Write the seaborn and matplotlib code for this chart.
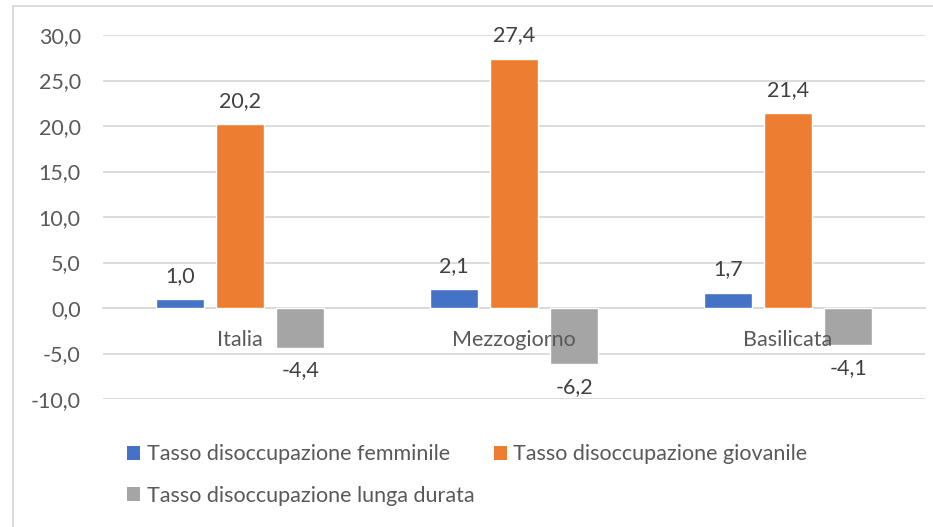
import pandas as pd
import numpy as np
import matplotlib
matplotlib.use("Agg")
import matplotlib.pyplot as plt
from matplotlib.lines import Line2D
from matplotlib.patches import Patch
import seaborn as sns

regioni = ["Italia", "Mezzogiorno", "Basilicata"]
serie = ["Tasso disoccupazione femminile",
         "Tasso disoccupazione giovanile",
         "Tasso disoccupazione lunga durata"]
femminile = [1.0, 2.1, 1.7]
giovanile = [20.2, 27.4, 21.4]
lunga_durata = [-4.4, -6.2, -4.1]
y_ticks = [-10, -5, 0, 5, 10, 15, 20, 25, 30]

colori = ["#4472C4", "#ED7D31", "#A5A5A5"]
testo = "#595959"
fs = 15.5

df = pd.DataFrame({
    "regione": regioni * 3,
    "serie": [serie[0]] * 3 + [serie[1]] * 3 + [serie[2]] * 3,
    "valore": femminile + giovanile + lunga_durata,
})

sns.set_style("white")
plt.rcParams['font.family'] = ['Lato', 'DejaVu Sans']

W, H = 933, 527
fig = plt.figure(figsize=(W / 100, H / 100), dpi=100)
ax = fig.add_axes([103 / W, 1 - 399 / H, (925 - 103) / W, (399 - 35) / H])

sns.barplot(data=df, x="regione", y="valore", hue="serie", order=regioni,
            hue_order=serie, palette=colori, width=0.66, gap=0.2,
            saturation=1, legend=False, ax=ax, zorder=3)

ax.set_ylim(-10, 30)
ax.set_xlim(-0.5, 2.5)
ax.set_yticks(y_ticks)
ax.set_yticklabels([f"{v:.1f}".replace(".", ",") for v in y_ticks],
                   color=testo, fontsize=fs)
ax.yaxis.grid(True, color="#D9D9D9", linewidth=1.3, zorder=0)
ax.set_axisbelow(True)
for s in ["top", "right", "left"]:
    ax.spines[s].set_visible(False)
ax.spines["bottom"].set_position(("data", 0))
ax.spines["bottom"].set_color("#D9D9D9")
ax.spines["bottom"].set_linewidth(1.3)
ax.spines["bottom"].set_zorder(2)
ax.tick_params(axis="y", length=0, pad=16)
ax.tick_params(axis="x", length=0, pad=16, labelsize=fs, labelcolor=testo)
ax.xaxis.set_zorder(5)
ax.set_xlabel("")
ax.set_ylabel("")

# etichette dei valori
for cont in ax.containers:
    for rect in cont:
        v = rect.get_height()
        x = rect.get_x() + rect.get_width() / 2
        if v >= 0:
            ax.annotate(f"{v:.1f}".replace(".", ","), (x, v), xytext=(0, 9.5),
                        textcoords="offset points", ha="center", va="bottom",
                        fontsize=fs, color="#404040")
        else:
            ax.annotate(f"{v:.1f}".replace(".", ","), (x, v), xytext=(0, -9),
                        textcoords="offset points", ha="center", va="top",
                        fontsize=fs, color="#404040")

# ordine per colonne: riga 1 femminile/giovanile, riga 2 lunga durata
ordine = [0, 2, 1]
handles = [Patch(facecolor=colori[i], edgecolor="none") for i in ordine]
fig.legend(handles, [serie[i] for i in ordine], loc="upper left",
           bbox_to_anchor=(108 / W, 1 - 425 / H),
           ncol=2, frameon=False, fontsize=fs, labelcolor=testo,
           handlelength=0.6, handleheight=0.6, handletextpad=0.3,
           columnspacing=0.9, labelspacing=1.0)

# cornice dell'area grafico
fig.add_artist(Line2D([13 / W, 13 / W], [0, 1 - 6 / H], transform=fig.transFigure,
                      color="#D9D9D9", linewidth=1.3))
fig.add_artist(Line2D([13 / W, 1], [1 - 6 / H, 1 - 6 / H], transform=fig.transFigure,
                      color="#D9D9D9", linewidth=1.3))

fig.savefig("out.png", dpi=100)
